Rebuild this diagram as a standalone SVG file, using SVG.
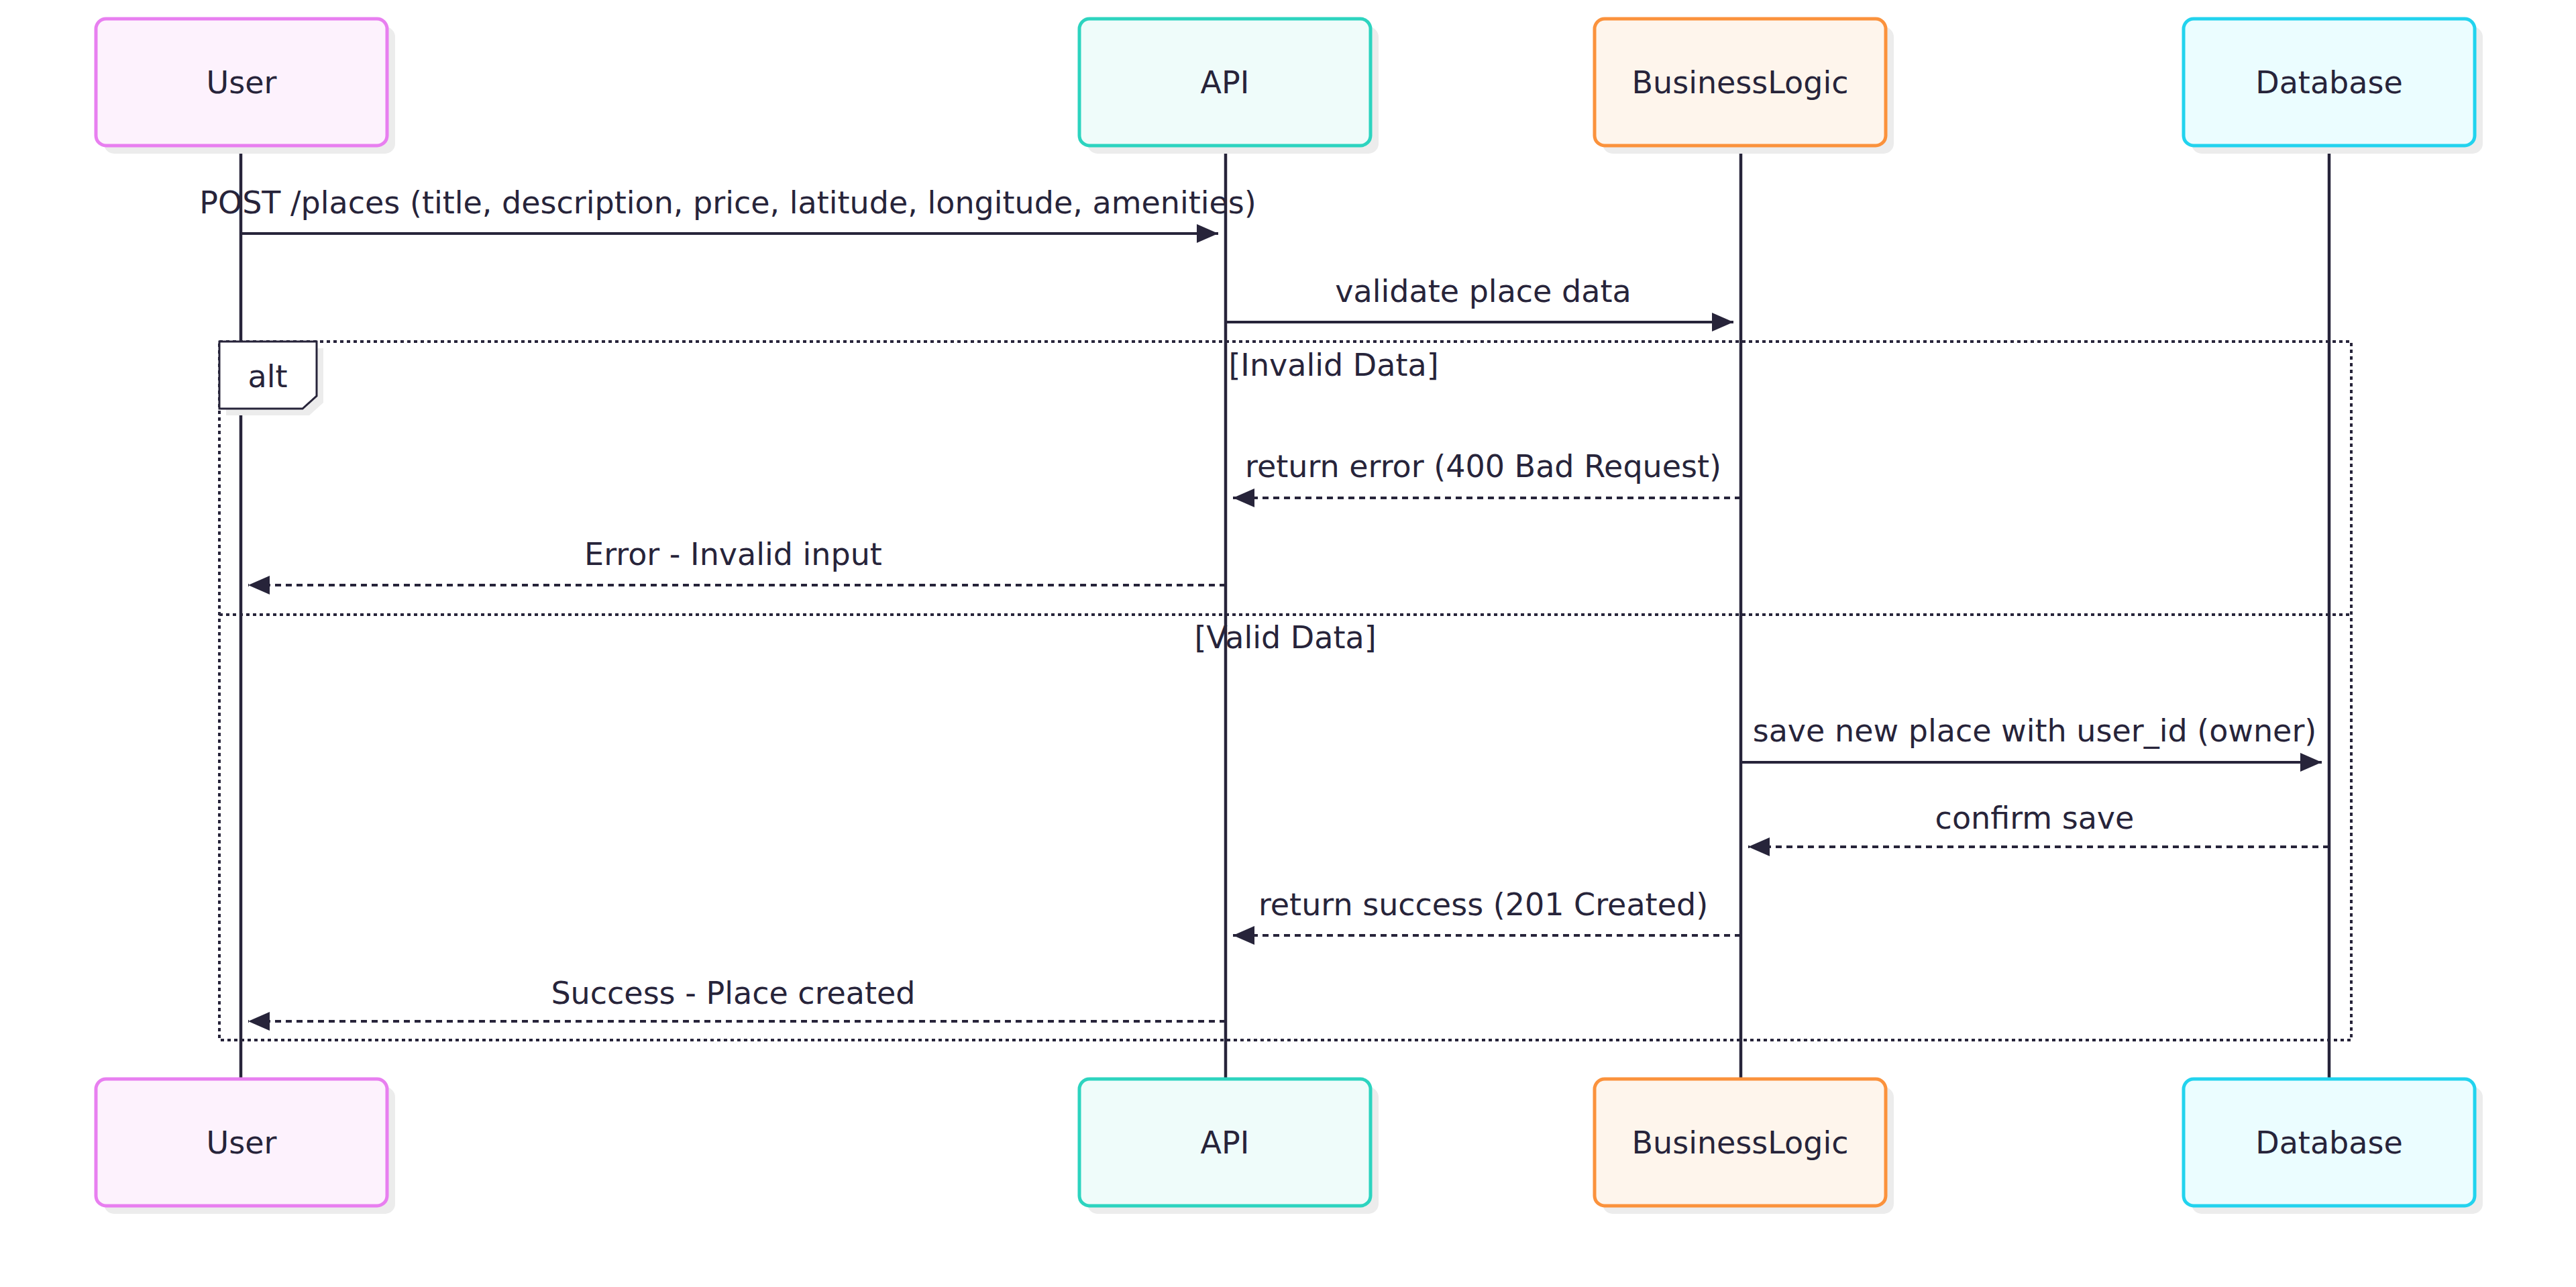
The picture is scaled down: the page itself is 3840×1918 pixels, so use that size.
<svg xmlns="http://www.w3.org/2000/svg" width="3840" height="1918" viewBox="0 0 3840 1918">
<defs>
<style>
text{font-family:"DejaVu Sans","Noto Sans",sans-serif;fill:#27243a;}
.lbl{font-size:46px;text-anchor:middle;}
.msg{font-size:46px;text-anchor:middle;}
.shadow{fill:#ececec;}
.box{stroke-width:5;}
.life{stroke:#27243a;stroke-width:4.5;fill:none;}
.solid{stroke:#27243a;stroke-width:4;fill:none;}
.dash{stroke:#27243a;stroke-width:4;fill:none;stroke-dasharray:9 7;}
.loop{stroke:#27243a;stroke-width:4;fill:none;stroke-dasharray:5 5;}
</style>
<marker id="ah" markerUnits="userSpaceOnUse" markerWidth="34" markerHeight="30" refX="32" refY="14" orient="auto">
<path d="M0,0 L32,14 L0,28 z" fill="#27243a"/>
</marker>
</defs>
<rect width="3840" height="1918" fill="#ffffff"/>

<g id="lifelines">
<line class="life" x1="359" y1="217" x2="359" y2="1608"/>
<line class="life" x1="1827" y1="217" x2="1827" y2="1608"/>
<line class="life" x1="2595" y1="217" x2="2595" y2="1608"/>
<line class="life" x1="3472" y1="217" x2="3472" y2="1608"/>
</g>

<g id="alt-frame">
<rect class="loop" x="327" y="509" width="3178" height="1041"/>
<line class="loop" x1="327" y1="916" x2="3505" y2="916"/>
<polygon class="shadow" points="337,519 482,519 482,600 461,619 337,619"/>
<polygon points="327,509 472,509 472,590 451,609 327,609" fill="#ffffff" stroke="#27243a" stroke-width="3"/>
<text class="msg" x="399" y="577">alt</text>
<text class="msg" x="1988" y="560">[Invalid Data]</text>
<text class="msg" x="1916" y="966">[Valid Data]</text>
</g>

<g id="user-top">
<rect class="shadow" x="155" y="40" width="434" height="189" rx="15"/>
<rect class="box" x="143" y="28" width="434" height="189" rx="15" fill="#fdf2fd" stroke="#e87ff0"/>
<text class="lbl" x="360" y="139">User</text>
</g>
<g id="api-top">
<rect class="shadow" x="1621" y="40" width="434" height="189" rx="15"/>
<rect class="box" x="1609" y="28" width="434" height="189" rx="15" fill="#effcfa" stroke="#2dd4bf"/>
<text class="lbl" x="1826" y="139">API</text>
</g>
<g id="businesslogic-top">
<rect class="shadow" x="2389" y="40" width="434" height="189" rx="15"/>
<rect class="box" x="2377" y="28" width="434" height="189" rx="15" fill="#fef5ec" stroke="#fb923c"/>
<text class="lbl" x="2594" y="139">BusinessLogic</text>
</g>
<g id="database-top">
<rect class="shadow" x="3267" y="40" width="434" height="189" rx="15"/>
<rect class="box" x="3255" y="28" width="434" height="189" rx="15" fill="#ebfdff" stroke="#22d3ee"/>
<text class="lbl" x="3472" y="139">Database</text>
</g>

<g id="user-bottom">
<rect class="shadow" x="155" y="1620" width="434" height="189" rx="15"/>
<rect class="box" x="143" y="1608" width="434" height="189" rx="15" fill="#fdf2fd" stroke="#e87ff0"/>
<text class="lbl" x="360" y="1719">User</text>
</g>
<g id="api-bottom">
<rect class="shadow" x="1621" y="1620" width="434" height="189" rx="15"/>
<rect class="box" x="1609" y="1608" width="434" height="189" rx="15" fill="#effcfa" stroke="#2dd4bf"/>
<text class="lbl" x="1826" y="1719">API</text>
</g>
<g id="businesslogic-bottom">
<rect class="shadow" x="2389" y="1620" width="434" height="189" rx="15"/>
<rect class="box" x="2377" y="1608" width="434" height="189" rx="15" fill="#fef5ec" stroke="#fb923c"/>
<text class="lbl" x="2594" y="1719">BusinessLogic</text>
</g>
<g id="database-bottom">
<rect class="shadow" x="3267" y="1620" width="434" height="189" rx="15"/>
<rect class="box" x="3255" y="1608" width="434" height="189" rx="15" fill="#ebfdff" stroke="#22d3ee"/>
<text class="lbl" x="3472" y="1719">Database</text>
</g>

<g id="connectors">
<line class="solid" x1="359" y1="348" x2="1816" y2="348" marker-end="url(#ah)"/>
<text class="msg" x="1085" y="318">POST /places (title, description, price, latitude, longitude, amenities)</text>
<line class="solid" x1="1827" y1="480" x2="2584" y2="480" marker-end="url(#ah)"/>
<text class="msg" x="2211" y="450">validate place data</text>
<line class="dash" x1="2595" y1="742" x2="1838" y2="742" marker-end="url(#ah)"/>
<text class="msg" x="2211" y="711">return error (400 Bad Request)</text>
<line class="dash" x1="1827" y1="872" x2="370" y2="872" marker-end="url(#ah)"/>
<text class="msg" x="1093" y="842">Error - Invalid input</text>
<line class="solid" x1="2595" y1="1136" x2="3461" y2="1136" marker-end="url(#ah)"/>
<text class="msg" x="3033" y="1105">save new place with user_id (owner)</text>
<line class="dash" x1="3472" y1="1262" x2="2606" y2="1262" marker-end="url(#ah)"/>
<text class="msg" x="3033" y="1235">confirm save</text>
<line class="dash" x1="2595" y1="1394" x2="1838" y2="1394" marker-end="url(#ah)"/>
<text class="msg" x="2211" y="1364">return success (201 Created)</text>
<line class="dash" x1="1827" y1="1522" x2="370" y2="1522" marker-end="url(#ah)"/>
<text class="msg" x="1093" y="1496">Success - Place created</text>
</g>
</svg>
